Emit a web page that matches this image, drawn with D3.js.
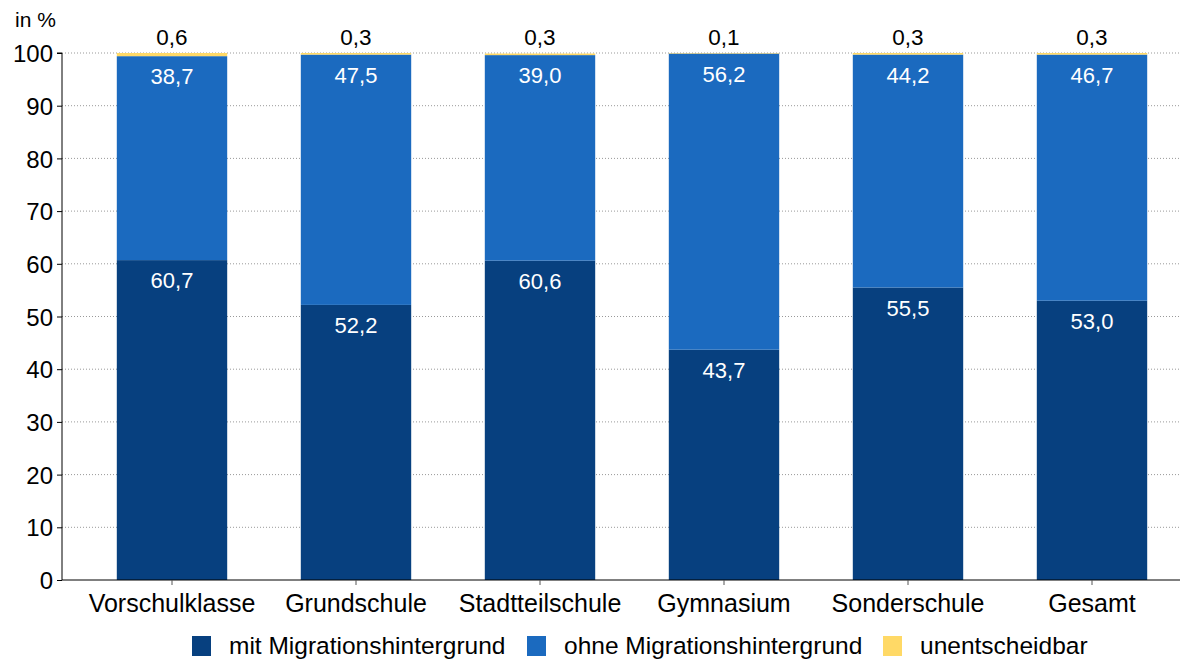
<!DOCTYPE html>
<html><head><meta charset="utf-8">
<script src="https://cdn.jsdelivr.net/npm/d3@7"></script>
<style>body{margin:0;background:#fff}svg{display:block;font-family:"Liberation Sans",Arial,sans-serif}</style>
</head><body><svg id="c" width="1190" height="659"></svg>
<script>
const categories = ["Vorschulklasse","Grundschule","Stadtteilschule","Gymnasium","Sonderschule","Gesamt"];
const mit = [60.7,52.2,60.6,43.7,55.5,53.0];
const ohne = [38.7,47.5,39.0,56.2,44.2,46.7];
const unent = [0.6,0.3,0.3,0.1,0.3,0.3];
const seriesNames = ["mit Migrationshintergrund","ohne Migrationshintergrund","unentscheidbar"];
const colors = ["#07407f","#1b6abf","#ffd966"];
const yTicks = [0,10,20,30,40,50,60,70,80,90,100];

const FF = "Liberation Sans, Arial, sans-serif";
const svg = d3.select("#c");
const fmt = v => d3.format(".1f")(v).replace(".", ",");
const y = d3.scaleLinear().domain([0,100]).range([580,53]);
const x = d3.scaleBand().domain(categories).range([80,1184]).paddingInner(0.4).paddingOuter(0.2);

// grid
svg.append("g").selectAll("line").data(yTicks.slice(1)).join("line")
  .attr("x1",62).attr("x2",1180).attr("y1",d=>y(d)).attr("y2",d=>y(d))
  .attr("stroke","#999").attr("stroke-width",1).attr("stroke-dasharray","1,2");

const rows = categories.map((c,i)=>({cat:c, mit:mit[i], ohne:ohne[i], unent:unent[i]}));
const stack = d3.stack().keys(["mit","ohne","unent"])(rows);
const g = svg.append("g");
stack.forEach((s,k)=>{
  g.append("g").selectAll("rect").data(s).join("rect")
    .attr("x",d=>x(d.data.cat)).attr("width",x.bandwidth())
    .attr("y",d=>y(d[1])).attr("height",d=>y(d[0])-y(d[1]))
    .attr("fill",colors[k]);
});
// labels inside
[0,1].forEach(k=>{
  g.append("g").selectAll("text").data(stack[k]).join("text")
    .attr("x",d=>x(d.data.cat)+x.bandwidth()/2).attr("y",d=>y(d[1])+28)
    .attr("text-anchor","middle").attr("fill","#fff").attr("font-size",22)
    .text(d=>fmt(d[1]-d[0]));
});
g.append("g").selectAll("text").data(stack[2]).join("text")
  .attr("x",d=>x(d.data.cat)+x.bandwidth()/2).attr("y",y(100)-8)
  .attr("text-anchor","middle").attr("fill","#000").attr("font-size",22.5)
  .text(d=>fmt(d[1]-d[0]));

// y axis
const ya = svg.append("g").attr("transform","translate(62,0)")
  .call(d3.axisLeft(y).tickValues(yTicks).tickSize(5).tickPadding(4));
ya.select(".domain").attr("stroke","#000").attr("d","M-5,53H0V580");
ya.selectAll("text").attr("font-size",24).attr("font-family",FF).attr("fill","#000").attr("dy","0.36em");
ya.selectAll(".tick line").attr("stroke","#000");

// x axis
const xa = svg.append("g").attr("transform","translate(0,580)")
  .call(d3.axisBottom(x).tickSize(5).tickPadding(6));
xa.select(".domain").attr("stroke","#000").attr("d","M62,0H1180");
xa.selectAll(".tick line").attr("stroke","#555");
xa.selectAll("text").attr("font-size",25).attr("font-family",FF).attr("fill","#000")
  .attr("y",null).attr("dy",null).attr("transform","translate(0,32)");

svg.append("text").attr("x",15).attr("y",27).attr("font-size",21).text("in %");

// legend
const legX = [192,527,883];
const lg = svg.append("g");
seriesNames.forEach((n,i)=>{
  lg.append("rect").attr("x",legX[i]).attr("y",636).attr("width",19).attr("height",20).attr("fill",colors[i]);
  lg.append("text").attr("x",legX[i]+37).attr("y",654).attr("font-size",24.5).text(n);
});
</script></body></html>
